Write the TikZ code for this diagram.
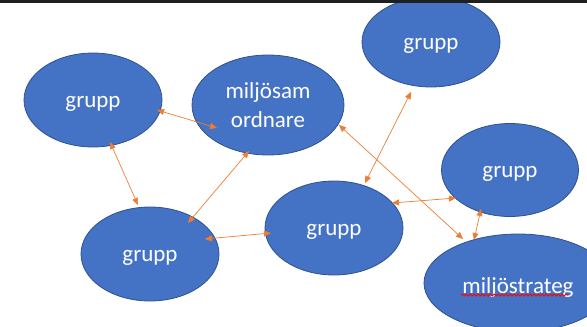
\documentclass[tikz,border=0pt]{standalone}
\usepackage{fontspec}
\setmainfont{Carlito}
\usetikzlibrary{arrows.meta,shapes.geometric,decorations.pathmorphing}
\definecolor{officeblue}{HTML}{4472C4}
\definecolor{blueedge}{HTML}{2F528F}
\definecolor{arroworange}{HTML}{ED7D31}
\newcommand{\lowtext}[1]{\raisebox{-4pt}[\height][\depth]{#1}}
\tikzset{
  bubble/.style={ellipse, fill=officeblue, draw=blueedge, line width=0.8pt, inner sep=0pt,
    text=white, font=\fontsize{23}{29}\selectfont, align=center},
  link/.style={draw=arroworange, line width=0.7pt,
    {Triangle[length=7pt,width=6pt]}-{Triangle[length=7pt,width=6pt]}}
}
\begin{document}
\begin{tikzpicture}[x=1pt,y=-1pt]
\useasboundingbox (0,0) rectangle (587,327);
\begin{scope}
\clip (0,0) rectangle (587,327);
\node[bubble, minimum width=138pt, minimum height=94pt] (A) at (93,100) {\lowtext{grupp}};
\node[bubble, minimum width=152pt, minimum height=100pt] (B) at (268,105) {miljösam\\ordnare};
\node[bubble, minimum width=138pt, minimum height=90pt] (C) at (431,42) {\lowtext{grupp}};
\node[bubble, minimum width=137pt, minimum height=93pt] (D) at (510,170) {\lowtext{grupp}};
\node[bubble, minimum width=138pt, minimum height=94pt] (E) at (334,228) {\lowtext{grupp}};
\node[bubble, minimum width=138pt, minimum height=94pt] (F) at (150,254) {\lowtext{grupp}};
\node[bubble, minimum width=188pt, minimum height=98pt] (G) at (518,283) {\lowtext{miljöstrateg}};
\draw[red, line width=0.8pt, decorate, decoration={snake, amplitude=1pt, segment length=4pt}]
  ([xshift=-57pt,yshift=-12pt]G.center) coordinate (wavy1) -- ([xshift=50pt,yshift=-12pt]G.center) coordinate (wavy2);
\fill[black!88] (0,0) rectangle (587,2.5);
\end{scope}
% connector end points
\coordinate (ab1) at (157,110); \coordinate (ab2) at (217,128);
\coordinate (af1) at (110,142); \coordinate (af2) at (138,205);
\coordinate (bf1) at (249,151); \coordinate (bf2) at (188,223);
\coordinate (fe1) at (205,239); \coordinate (fe2) at (271,233);
\coordinate (ce1) at (411,92);  \coordinate (ce2) at (365,183);
\coordinate (bg1) at (339,125); \coordinate (bg2) at (463,239);
\coordinate (ed1) at (392,203); \coordinate (ed2) at (456,198);
\coordinate (dg1) at (481,209); \coordinate (dg2) at (474,240);
\draw[link] (ab1) -- (ab2);
\draw[link] (af1) -- (af2);
\draw[link] (bf1) -- (bf2);
\draw[link] (fe1) -- (fe2);
\draw[link] (ce1) -- (ce2);
\draw[link] (bg1) -- (bg2);
\draw[link] (ed1) -- (ed2);
\draw[link] (dg1) -- (dg2);
\end{tikzpicture}
\end{document}
